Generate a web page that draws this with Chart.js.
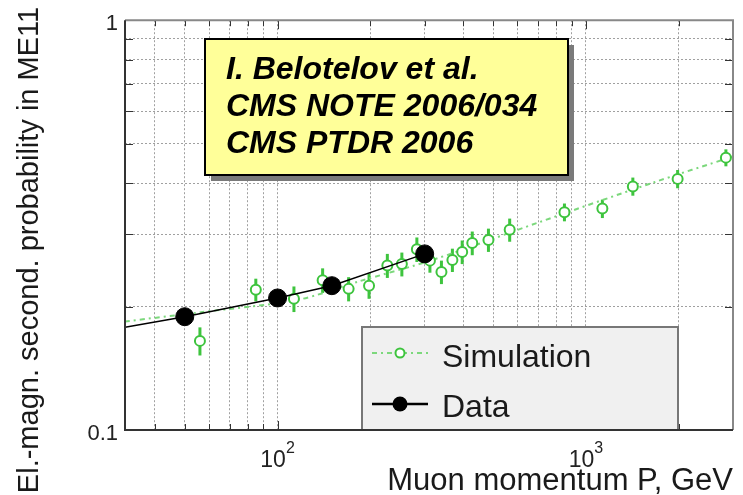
<!DOCTYPE html>
<html>
<head>
<meta charset="utf-8">
<script src="https://cdn.jsdelivr.net/npm/chart.js@4"></script>
<style>
  html, body { margin: 0; padding: 0; background: #fff; }
  #wrap { width: 743px; height: 495px; }
</style>
</head>
<body>
<div id="wrap"><canvas id="muonChart" width="743" height="495"></canvas></div>
<script>
// simulation: momentum (GeV), probability, error half-width
const simMomentum = [56, 85, 113, 140, 170, 198, 227, 253, 283, 312, 340, 369, 397, 428, 483, 566, 852, 1131, 1420, 1984, 2845];
const simProb = [0.165, 0.220, 0.209, 0.232, 0.221, 0.225, 0.252, 0.254, 0.276, 0.259, 0.243, 0.260, 0.272, 0.286, 0.291, 0.308, 0.340, 0.347, 0.393, 0.410, 0.462];
const simErr = [0.013, 0.014, 0.015, 0.016, 0.015, 0.016, 0.017, 0.017, 0.019, 0.017, 0.016, 0.017, 0.018, 0.019, 0.019, 0.020, 0.017, 0.018, 0.020, 0.021, 0.022];

// dash-dot curve through the simulation
const simFitMomentum = [32, 57, 117, 182, 323, 702, 1628, 3000];
const simFitProb = [0.184, 0.194, 0.208, 0.230, 0.261, 0.321, 0.400, 0.465];

// measured points and the solid curve through them
const dataMomentum = [50, 100, 150, 300];
const dataProb = [0.189, 0.210, 0.225, 0.269];
const dataFitMomentum = [32, 50, 100, 150, 300];
const dataFitProb = [0.178, 0.189, 0.210, 0.225, 0.269];

const xTicks = [40, 50, 60, 70, 80, 90, 100, 200, 300, 400, 500, 600, 700, 800, 900, 1000, 2000];
const xLabelTicks = [100, 1000];
const yTicks = [0.1, 0.2, 0.3, 0.4, 0.5, 0.6, 0.7, 0.8, 0.9, 1];
const yLabelTicks = [0.1, 1];

const legendLabels = ['Simulation', 'Data'];
const noteLines = ['I. Belotelov et al.', 'CMS NOTE 2006/034', 'CMS PTDR 2006'];
const xTitle = 'Muon momentum P, GeV';
const yTitle = 'El.-magn. second. probability in ME11';

const GREEN = '#3ec43e';
const GREEN_LINE = '#7cd87c';
const FONT = '"Liberation Sans", Arial, Helvetica, sans-serif';
const SIM_DASH = [5, 4, 2, 4];

Chart.defaults.font.family = FONT;

const toPoints = (xs, ys) => xs.map((x, i) => ({ x: x, y: ys[i] }));

const decor = {
    id: 'decor',

    beforeDatasetsDraw(chart) {
        // error bars sit under the open markers
        const { ctx, scales: { x, y } } = chart;
        ctx.save();
        ctx.strokeStyle = GREEN;
        ctx.lineWidth = 3;
        for (let i = 0; i < simMomentum.length; i++) {
            const px = x.getPixelForValue(simMomentum[i]);
            ctx.beginPath();
            ctx.moveTo(px, y.getPixelForValue(simProb[i] - simErr[i]));
            ctx.lineTo(px, y.getPixelForValue(simProb[i] + simErr[i]));
            ctx.stroke();
        }
        ctx.restore();
    },

    afterDraw(chart) {
        const { ctx, chartArea: a, scales: { x, y } } = chart;
        ctx.save();

        // inward tick marks on all four sides
        ctx.strokeStyle = '#333';
        ctx.lineWidth = 1;
        ctx.beginPath();
        xTicks.forEach(v => {
            const px = Math.round(x.getPixelForValue(v)) + 0.5;
            const len = xLabelTicks.includes(v) ? 9 : 6;
            ctx.moveTo(px, a.bottom); ctx.lineTo(px, a.bottom - len);
            ctx.moveTo(px, a.top); ctx.lineTo(px, a.top + len);
        });
        yTicks.forEach(v => {
            const py = Math.round(y.getPixelForValue(v)) + 0.5;
            ctx.moveTo(a.left, py); ctx.lineTo(a.left + 8, py);
            ctx.moveTo(a.right, py); ctx.lineTo(a.right - 8, py);
        });
        ctx.stroke();

        // legend box in the lower right
        const lx = 362, ly = 327, lw = 316, lh = a.bottom - 327;
        ctx.fillStyle = '#f0f0f0';
        ctx.fillRect(lx, ly, lw, lh);
        ctx.strokeStyle = '#777';
        ctx.lineWidth = 2;
        ctx.strokeRect(lx, ly, lw, lh);

        ctx.strokeStyle = GREEN_LINE;
        ctx.lineWidth = 2;
        ctx.setLineDash(SIM_DASH);
        ctx.beginPath();
        ctx.moveTo(372, 353); ctx.lineTo(428, 353);
        ctx.stroke();
        ctx.setLineDash([]);
        ctx.fillStyle = '#fff';
        ctx.strokeStyle = GREEN;
        ctx.beginPath();
        ctx.arc(400, 353, 4.5, 0, Math.PI * 2);
        ctx.fill(); ctx.stroke();

        ctx.strokeStyle = '#000';
        ctx.lineWidth = 2.5;
        ctx.beginPath();
        ctx.moveTo(372, 404); ctx.lineTo(428, 404);
        ctx.stroke();
        ctx.fillStyle = '#000';
        ctx.beginPath();
        ctx.arc(400, 404, 7.5, 0, Math.PI * 2);
        ctx.fill();

        ctx.fillStyle = '#1a1a1a';
        ctx.font = '32px ' + FONT;
        ctx.textAlign = 'left';
        ctx.textBaseline = 'alphabetic';
        ctx.fillText(legendLabels[0], 442, 367);
        ctx.fillText(legendLabels[1], 442, 417);

        // axes box
        ctx.lineWidth = 2;
        ctx.strokeStyle = '#888';
        ctx.beginPath();
        ctx.moveTo(a.left, a.top); ctx.lineTo(a.right, a.top); ctx.lineTo(a.right, a.bottom);
        ctx.stroke();
        ctx.strokeStyle = '#333';
        ctx.beginPath();
        ctx.moveTo(a.left, a.top); ctx.lineTo(a.left, a.bottom); ctx.lineTo(a.right, a.bottom);
        ctx.stroke();

        // x labels as 10 with a raised exponent
        ctx.fillStyle = '#222';
        xLabelTicks.forEach(v => {
            const px = x.getPixelForValue(v);
            const base = '10';
            const exp = String(Math.round(Math.log10(v)));
            ctx.font = '23px ' + FONT;
            const wb = ctx.measureText(base).width;
            ctx.font = '16px ' + FONT;
            const we = ctx.measureText(exp).width;
            const sx = px - (wb + we) / 2;
            ctx.font = '23px ' + FONT;
            ctx.fillText(base, sx, 467);
            ctx.font = '16px ' + FONT;
            ctx.fillText(exp, sx + wb, 453);
        });

        // y title
        ctx.save();
        ctx.translate(30, 250);
        ctx.rotate(-Math.PI / 2);
        ctx.font = '29px ' + FONT;
        ctx.fillStyle = '#1a1a1a';
        ctx.textAlign = 'center';
        ctx.textBaseline = 'middle';
        ctx.fillText(yTitle, 0, 0);
        ctx.restore();

        // reference note with drop shadow
        const nx = 205, ny = 39, nw = 363, nh = 136;
        ctx.fillStyle = '#7a7a7a';
        ctx.fillRect(nx + 6, ny + 6, nw, nh);
        ctx.fillStyle = '#ffff99';
        ctx.fillRect(nx, ny, nw, nh);
        ctx.strokeStyle = '#000';
        ctx.lineWidth = 2;
        ctx.strokeRect(nx, ny, nw, nh);
        ctx.fillStyle = '#000';
        ctx.font = 'italic bold 32px ' + FONT;
        noteLines.forEach((t, i) => ctx.fillText(t, 226, 79 + i * 37));

        ctx.restore();
    }
};

const ctx = document.getElementById('muonChart').getContext('2d');
const chart = new Chart(ctx, {
    type: 'scatter',
    data: {
        datasets: [
            {
                label: 'Data',
                data: toPoints(dataMomentum, dataProb),
                showLine: false,
                pointRadius: 9,
                pointBackgroundColor: '#000',
                pointBorderColor: '#000',
                order: 0
            },
            {
                label: 'Data curve',
                data: toPoints(dataFitMomentum, dataFitProb),
                showLine: true,
                borderColor: '#000',
                borderWidth: 1.5,
                pointRadius: 0,
                tension: 0,
                order: 1
            },
            {
                label: 'Simulation',
                data: toPoints(simMomentum, simProb),
                showLine: false,
                pointRadius: 5,
                pointBorderWidth: 2,
                pointBackgroundColor: '#fff',
                pointBorderColor: GREEN,
                order: 2
            },
            {
                label: 'Simulation curve',
                data: toPoints(simFitMomentum, simFitProb),
                showLine: true,
                borderColor: GREEN_LINE,
                borderWidth: 2,
                borderDash: SIM_DASH,
                pointRadius: 0,
                tension: 0.3,
                order: 3
            }
        ]
    },
    options: {
        responsive: false,
        animation: false,
        devicePixelRatio: 1,
        layout: { padding: { top: 15, right: 3, left: 0, bottom: 0 } },
        plugins: {
            legend: { display: false },
            tooltip: { enabled: false }
        },
        scales: {
            x: {
                type: 'logarithmic',
                min: 32,
                max: 3000,
                afterBuildTicks: s => { s.ticks = xTicks.map(v => ({ value: v })); },
                afterFit: s => { s.height = 65; },
                ticks: { display: false },
                grid: { color: '#a0a0a0', lineWidth: 1, drawTicks: false },
                border: { display: false, dash: [2, 2] },
                title: {
                    display: true,
                    text: xTitle,
                    align: 'end',
                    color: '#1a1a1a',
                    font: { size: 31, lineHeight: 0.9 },
                    padding: 0
                }
            },
            y: {
                type: 'logarithmic',
                min: 0.1,
                max: 1,
                afterBuildTicks: s => { s.ticks = yTicks.map(v => ({ value: v })); },
                afterFit: s => { s.width = 125; },
                ticks: {
                    autoSkip: false,
                    color: '#222',
                    font: { size: 22 },
                    padding: 7,
                    labelOffset: 4,
                    callback: v => (yLabelTicks.includes(v) ? String(v) : '')
                },
                grid: { color: '#a0a0a0', lineWidth: 1, drawTicks: false },
                border: { display: false, dash: [2, 2] }
            }
        }
    },
    plugins: [decor]
});
</script>
</body>
</html>
